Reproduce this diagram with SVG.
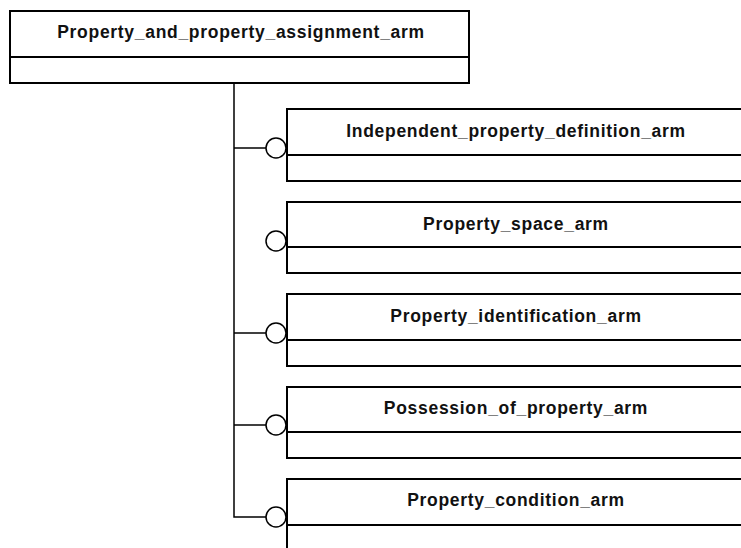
<svg xmlns="http://www.w3.org/2000/svg" width="741" height="548" viewBox="0 0 741 548">
<style>
.box{fill:#fff;stroke:#000;stroke-width:2}
.div{stroke:#000;stroke-width:2}
.lbl{font-family:"Liberation Sans",Arial,sans-serif;font-weight:bold;font-size:17.5px;letter-spacing:0.7px;text-anchor:middle;fill:#111}
.con{stroke:#000;stroke-width:1.5;fill:none}
.circ{fill:#fff;stroke:#000;stroke-width:1.5}
</style>
<rect width="741" height="548" fill="#fff"/>
<g id="connectors">
<polyline class="con" points="234,83 234,517 266,517"/>
<line class="con" x1="234" y1="148" x2="266" y2="148"/>
<line class="con" x1="234" y1="333" x2="266" y2="333"/>
<line class="con" x1="234" y1="425" x2="266" y2="425"/>
<circle class="circ" cx="276" cy="148" r="10"/>
<circle class="circ" cx="276" cy="241" r="10"/>
<circle class="circ" cx="276" cy="333" r="10"/>
<circle class="circ" cx="276" cy="425" r="10"/>
<circle class="circ" cx="276" cy="517" r="10"/>
</g>
<g id="node-top">
<rect class="box" x="10" y="11" width="459" height="72"/>
<line class="div" x1="10" y1="57" x2="469" y2="57"/>
<text class="lbl" x="241" y="38">Property_and_property_assignment_arm</text>
</g>
<g id="node-1">
<rect class="box" x="287" y="109" width="460" height="72"/>
<line class="div" x1="287" y1="155" x2="747" y2="155"/>
<text class="lbl" x="516" y="137">Independent_property_definition_arm</text>
</g>
<g id="node-2">
<rect class="box" x="287" y="202" width="460" height="71"/>
<line class="div" x1="287" y1="247" x2="747" y2="247"/>
<text class="lbl" x="516" y="230">Property_space_arm</text>
</g>
<g id="node-3">
<rect class="box" x="287" y="294" width="460" height="72"/>
<line class="div" x1="287" y1="340" x2="747" y2="340"/>
<text class="lbl" x="516" y="322">Property_identification_arm</text>
</g>
<g id="node-4">
<rect class="box" x="287" y="387" width="460" height="71"/>
<line class="div" x1="287" y1="432" x2="747" y2="432"/>
<text class="lbl" x="516" y="414">Possession_of_property_arm</text>
</g>
<g id="node-5">
<rect class="box" x="287" y="479" width="460" height="80"/>
<line class="div" x1="287" y1="525" x2="747" y2="525"/>
<text class="lbl" x="516" y="506">Property_condition_arm</text>
</g>
</svg>
